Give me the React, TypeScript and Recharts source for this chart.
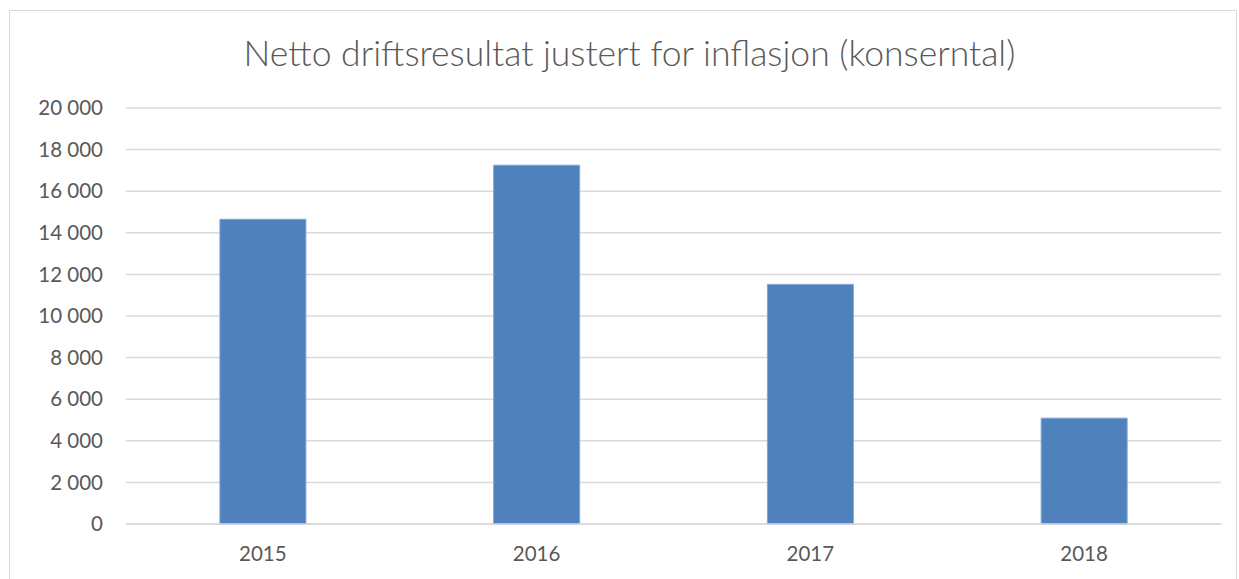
import { BarChart, Bar, XAxis, YAxis, CartesianGrid } from "recharts";

// år og netto driftsresultat (mill. kr, inflasjonsjustert)
const years = ["2015", "2016", "2017", "2018"];
const values = [14650, 17250, 11520, 5090];
const yTicks = [0, 2000, 4000, 6000, 8000, 10000, 12000, 14000, 16000, 18000, 20000];

const data = years.map((year, i) => ({ year, value: values[i] }));

const fmt = (v: number) => (v >= 1000 ? `${Math.floor(v / 1000)} ${String(v % 1000).padStart(3, "0")}` : String(v));

const FONT = "Lato, 'Open Sans', sans-serif";

export default function App() {
    return (
        <div style={{ position: "absolute", left: 0, top: 0, width: 1239, height: 579, background: "#fff", overflow: "hidden" }}>
            {/* ramme rundt diagrammet */}
            <div style={{ position: "absolute", left: 9, top: 10, width: 1228, height: 600, border: "1.5px solid #d9d9d9", boxSizing: "border-box" }} />
            <div
                style={{
                    position: "absolute",
                    left: 0,
                    top: 31,
                    width: 1259,
                    textAlign: "center",
                    fontFamily: FONT,
                    fontSize: 35.5,
                    color: "#595959",
                    fontWeight: 300,
                }}
            >
                Netto driftsresultat justert for inflasjon (konserntal)
            </div>
            <BarChart
                width={1239}
                height={579}
                data={data}
                margin={{ top: 108, right: 18, bottom: 25, left: 0 }}
                barCategoryGap="34.3%"
                style={{ position: "absolute", left: 0, top: 0 }}
            >
                <CartesianGrid vertical={false} stroke="#d9d9d9" strokeWidth={1.5} />
                <YAxis
                    width={126}
                    domain={[0, 20000]}
                    ticks={yTicks}
                    tickFormatter={fmt}
                    axisLine={false}
                    tickLine={false}
                    tickSize={0}
                    tickMargin={23}
                    tick={{ fill: "#595959", fontSize: 20.5, fontFamily: FONT }}
                    interval={0}
                />
                <XAxis
                    dataKey="year"
                    height={30}
                    axisLine={{ stroke: "#d9d9d9", strokeWidth: 1.5 }}
                    tickLine={false}
                    tickSize={0}
                    tickMargin={22}
                    tick={{ fill: "#595959", fontSize: 20.5, fontFamily: FONT }}
                />
                <Bar dataKey="value" fill="#4f81bd" stroke="#7fa6d6" strokeWidth={1} isAnimationActive={false} />
            </BarChart>
        </div>
    );
}
